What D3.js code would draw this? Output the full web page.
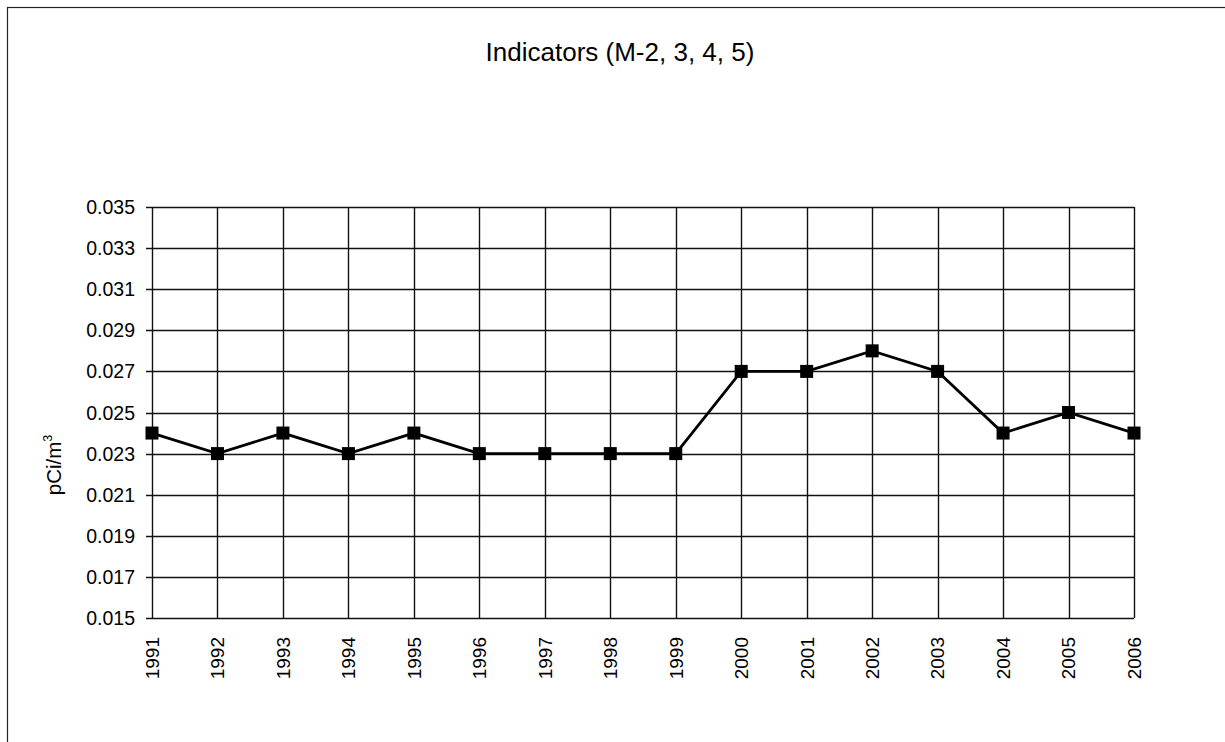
<!DOCTYPE html>
<html>
<head>
<meta charset="utf-8">
<script src="https://cdn.jsdelivr.net/npm/d3@7"></script>
<style>
  html, body { margin: 0; padding: 0; background: #fff; }
  svg { display: block; }
  text { font-family: "Liberation Sans", Arial, sans-serif; fill: #000; }
</style>
</head>
<body>
<svg id="chart" width="1225" height="742"></svg>
<script>
const years = ["1991","1992","1993","1994","1995","1996","1997","1998","1999","2000","2001","2002","2003","2004","2005","2006"];
const values = [0.024,0.023,0.024,0.023,0.024,0.023,0.023,0.023,0.023,0.027,0.027,0.028,0.027,0.024,0.025,0.024];
const yTicks = [0.015,0.017,0.019,0.021,0.023,0.025,0.027,0.029,0.031,0.033,0.035];
const titleText = "Indicators (M-2, 3, 4, 5)";
const yLabel = "pCi/m";
const yLabelSup = "3";

const svg = d3.select("#chart");
const W = 1225, H = 742;

// outer frame (only top and left visible in the reference)
svg.append("rect").attr("x", 7.5).attr("y", 7.5).attr("width", W + 20).attr("height", H + 20)
  .attr("fill", "none").attr("stroke", "#222").attr("stroke-width", 1.2);

const x = d3.scalePoint().domain(years).range([152, 1134]);
const y = d3.scaleLinear().domain([0.015, 0.035]).range([618, 207]);

// horizontal gridlines
svg.append("g").selectAll("line").data(yTicks).join("line")
  .attr("x1", 146).attr("x2", 1134)
  .attr("y1", d => Math.round(y(d)) + 0.5).attr("y2", d => Math.round(y(d)) + 0.5)
  .attr("stroke", "#111").attr("stroke-width", 1.4);

// vertical gridlines
svg.append("g").selectAll("line").data(years).join("line")
  .attr("x1", d => Math.round(x(d)) + 0.5).attr("x2", d => Math.round(x(d)) + 0.5)
  .attr("y1", y(0.035)).attr("y2", y(0.015))
  .attr("stroke", "#111").attr("stroke-width", 1.4);

// y tick labels
svg.append("g").selectAll("text").data(yTicks).join("text")
  .attr("x", 135).attr("y", d => y(d)).attr("dy", "0.36em")
  .attr("text-anchor", "end").attr("font-size", 19.5)
  .text(d => d3.format(".3f")(d));

// x tick labels (rotated)
svg.append("g").selectAll("text").data(years).join("text")
  .attr("transform", d => `translate(${x(d)},637) rotate(-90)`)
  .attr("dy", "0.36em")
  .attr("text-anchor", "end").attr("font-size", 19)
  .text(d => d);

// line
const line = d3.line().x((d, i) => x(years[i])).y(d => y(d));
svg.append("path").datum(values).attr("d", line)
  .attr("fill", "none").attr("stroke", "#000").attr("stroke-width", 2.8);

// markers
const ms = 13;
svg.append("g").selectAll("rect").data(values).join("rect")
  .attr("x", (d, i) => x(years[i]) - ms / 2).attr("y", d => y(d) - ms / 2)
  .attr("width", ms).attr("height", ms).attr("fill", "#000");

// title
svg.append("text").attr("x", 620).attr("y", 61).attr("text-anchor", "middle")
  .attr("font-size", 26).text(titleText);

// y axis label
const yl = svg.append("text").attr("transform", "translate(61,465) rotate(-90)")
  .attr("text-anchor", "middle").attr("font-size", 20.5);
yl.append("tspan").text(yLabel);
yl.append("tspan").attr("font-size", 12.5).attr("dy", "-0.7em").text(yLabelSup);
</script>
</body>
</html>
